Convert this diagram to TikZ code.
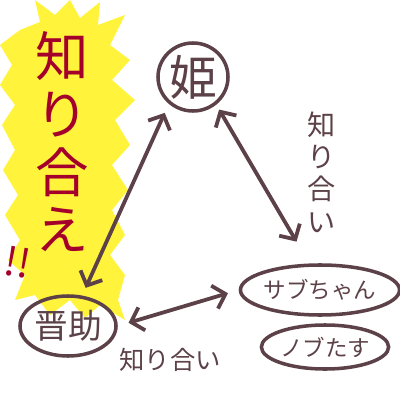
\documentclass[tikz,border=0pt]{standalone}
\usepackage{fontspec}
\newfontfamily\jp{Noto Sans CJK JP}
\usetikzlibrary{shapes.geometric,arrows.meta}
\definecolor{ink}{HTML}{5C4248}
\definecolor{shout}{HTML}{A3002C}
\definecolor{flash}{HTML}{FFF33B}
\tikzset{
  person/.style={shape=ellipse,draw=ink,line width=2.5pt,text=ink,inner sep=0pt},
  link/.style={draw=ink,line width=2.7pt,line cap=round,
    {Straight Barb[length=8pt,width=17pt]}-{Straight Barb[length=8pt,width=17pt]}},
}

\begin{document}
\begin{tikzpicture}[x=0.025cm,y=-0.025cm]
	\useasboundingbox (0,0) rectangle (400,400);

	% yellow flash behind the shout
	\fill[flash] (20,30) -- (40,22) -- (35,0) -- (55,15) -- (70,0) -- (80,18) -- (100,2)
	  -- (98,25) -- (125,15) -- (110,45) -- (130,60) -- (112,80) -- (135,100) -- (115,120)
	  -- (130,145) -- (112,165) -- (128,190) -- (112,210) -- (125,235) -- (110,255)
	  -- (125,275) -- (118,300) -- (125,320) -- (100,305) -- (85,318) -- (70,300)
	  -- (50,315) -- (35,295) -- (15,300) -- (25,275) -- (8,260) -- (20,240) -- (5,215)
	  -- (18,195) -- (3,170) -- (15,150) -- (2,125) -- (15,105) -- (0,85) -- (12,65)
	  -- (0,45) -- cycle;

	\node[text=shout,align=center,font=\jp\fontsize{38}{41}\selectfont] (s) at (62,142) {知\\り\\合\\え};
	\node[text=shout,rotate=-10,font=\jp\fontsize{28}{28}\selectfont] (t) at (18,262) {!!};

	\node[person,minimum width=1.75cm,minimum height=1.7cm,font=\jp\fontsize{34}{34}\selectfont] (a) at (193,77) {姫};
	\node[person,minimum width=2.4cm,minimum height=1.5cm,font=\jp\fontsize{24}{24}\selectfont] (b) at (68,326) {晋助};
	\node[person,minimum width=3.15cm,minimum height=1.25cm,font=\jp\fontsize{16}{16}\selectfont] (c) at (320,290) {サブちゃん};
	\node[person,minimum width=3.15cm,minimum height=1.1cm,font=\jp\fontsize{16}{16}\selectfont] (d) at (325,347) {ノブたす};

	\node[text=ink,align=center,font=\jp\fontsize{20}{23}\selectfont] (e) at (322,172) {知\\り\\合\\い};
	\node[text=ink,font=\jp\fontsize{18}{18}\selectfont] (f) at (170,360) {知り合い};

	\draw[link,shorten <=6pt,shorten >=7pt] (b.65) -- (a.228);
	\draw[link,shorten <=4pt,shorten >=18pt] (a.-50) -- (c.112);
	\draw[link,shorten <=8pt,shorten >=8pt] (b.east) -- (c.west);
\end{tikzpicture}
\end{document}
